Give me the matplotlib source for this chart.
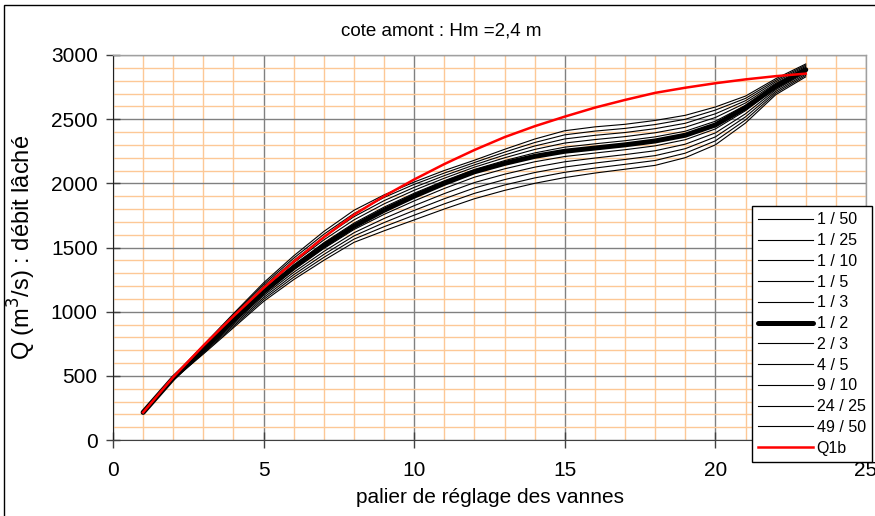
import matplotlib
matplotlib.use("Agg")
import matplotlib.pyplot as plt
from matplotlib.patches import Rectangle
from matplotlib.ticker import MultipleLocator

plt.rcParams['font.family'] = ['Liberation Sans', 'DejaVu Sans']

paliers = list(range(1, 24))

q_1_50 = [210, 470, 670, 875, 1080, 1250, 1400, 1540, 1630, 1715, 1800, 1880, 1945, 2000, 2045, 2080, 2110, 2140, 2200, 2300, 2470, 2690, 2830]
q_1_25 = [211, 472, 677, 887, 1095, 1269, 1423, 1565, 1662, 1752, 1840, 1922, 1987, 2042, 2086, 2119, 2148, 2178, 2235, 2331, 2494, 2703, 2841]
q_1_10 = [212, 475, 684, 899, 1110, 1288, 1446, 1590, 1694, 1789, 1880, 1964, 2029, 2084, 2127, 2158, 2186, 2216, 2270, 2362, 2518, 2716, 2852]
q_1_5 = [213, 477, 691, 911, 1125, 1307, 1469, 1615, 1726, 1826, 1920, 2006, 2071, 2126, 2168, 2197, 2224, 2254, 2305, 2393, 2542, 2729, 2863]
q_1_3 = [214, 480, 698, 923, 1140, 1326, 1492, 1640, 1758, 1863, 1960, 2048, 2113, 2168, 2209, 2236, 2262, 2292, 2340, 2424, 2566, 2742, 2874]
q_1_2 = [215, 482, 705, 935, 1155, 1345, 1515, 1665, 1790, 1900, 2000, 2090, 2155, 2210, 2250, 2275, 2300, 2330, 2375, 2455, 2590, 2755, 2885]
q_2_3 = [216, 485, 712, 945, 1169, 1363, 1537, 1690, 1815, 1923, 2020, 2108, 2177, 2237, 2282, 2308, 2332, 2362, 2406, 2484, 2608, 2767, 2894]
q_4_5 = [217, 487, 719, 955, 1183, 1381, 1559, 1715, 1840, 1946, 2040, 2126, 2199, 2264, 2314, 2341, 2364, 2394, 2437, 2513, 2626, 2779, 2903]
q_9_10 = [218, 490, 726, 965, 1197, 1399, 1581, 1740, 1865, 1969, 2060, 2144, 2221, 2291, 2346, 2374, 2396, 2426, 2468, 2542, 2644, 2791, 2912]
q_24_25 = [219, 492, 733, 975, 1211, 1417, 1603, 1765, 1890, 1992, 2080, 2162, 2243, 2318, 2378, 2407, 2428, 2458, 2499, 2571, 2662, 2803, 2921]
q_49_50 = [220, 495, 740, 985, 1225, 1435, 1625, 1790, 1910, 2010, 2100, 2180, 2265, 2345, 2410, 2440, 2460, 2490, 2530, 2595, 2680, 2815, 2930]
q1b = [215, 490, 735, 965, 1185, 1390, 1580, 1755, 1900, 2030, 2150, 2260, 2360, 2445, 2520, 2590, 2650, 2705, 2745, 2780, 2810, 2835, 2855]

labels = ["1 / 50", "1 / 25", "1 / 10", "1 / 5", "1 / 3", "1 / 2",
          "2 / 3", "4 / 5", "9 / 10", "24 / 25", "49 / 50", "Q1b"]
series = [q_1_50, q_1_25, q_1_10, q_1_5, q_1_3, q_1_2,
          q_2_3, q_4_5, q_9_10, q_24_25, q_49_50, q1b]

W, H = 875, 516
fig = plt.figure(figsize=(W / 100, H / 100), dpi=100)
ax = fig.add_axes([113 / W, 1 - 440 / H, (866 - 113) / W, (440 - 55) / H])

handles = []
for lab, vals in zip(labels, series):
    if lab == "Q1b":
        h, = ax.plot(paliers, vals, color='#ff0000', lw=1.8, zorder=5, label=lab)
    elif lab == "1 / 2":
        h, = ax.plot(paliers, vals, color='black', lw=3.6, zorder=4,
                     solid_capstyle='round', label=lab)
    else:
        h, = ax.plot(paliers, vals, color='black', lw=0.8, zorder=3, label=lab)
    handles.append(h)

ax.set_xlim(0, 25)
ax.set_ylim(0, 3000)
ax.xaxis.set_major_locator(MultipleLocator(5))
ax.yaxis.set_major_locator(MultipleLocator(500))
ax.xaxis.set_minor_locator(MultipleLocator(1))
ax.yaxis.set_minor_locator(MultipleLocator(100))
ax.grid(which='minor', color='#fdc896', lw=1.0, zorder=0)
ax.grid(which='major', color='#808080', lw=1.0, zorder=1)
ax.set_axisbelow(True)
ax.tick_params(which='minor', length=0)
ax.tick_params(axis='x', which='major', direction='inout', length=12, width=1,
               labelsize=15, pad=9, color='#404040')
ax.tick_params(axis='y', which='major', direction='inout', length=10, width=1,
               labelsize=15, pad=6, color='#404040')
for s in ['top', 'right']:
    ax.spines[s].set_color('#a0a0a0')
    ax.spines[s].set_linewidth(1)
ax.spines['left'].set_color('#202020')
ax.spines['bottom'].set_color('#404040')

ax.set_xlabel("palier de réglage des vannes", fontsize=15)
ax.xaxis.set_label_coords(0.5, -0.125)
ax.set_ylabel("Q (m$^3$/s) : débit lâché", fontsize=17)
ax.yaxis.set_label_coords(-0.1, 0.5)

fig.text(441 / W, 1 - 31 / H, "cote amont : Hm =2,4 m", fontsize=13.5,
         ha='center', va='center')

leg = fig.legend(handles=handles, labels=labels, loc='upper left',
                 bbox_to_anchor=(752 / W, 1 - 206 / H), borderaxespad=0,
                 fontsize=11.5, frameon=True, fancybox=False, framealpha=1,
                 edgecolor='black', handlelength=3.4, handletextpad=0.25,
                 labelspacing=0.36, borderpad=0.4)
leg.get_frame().set_linewidth(1)

fig.patches.append(Rectangle((4 / W, -0.05), 1.2, 1 - 5 / H + 0.05,
                             transform=fig.transFigure, fill=False,
                             edgecolor='black', lw=1, zorder=10))

fig.savefig("out.png", dpi=100)
